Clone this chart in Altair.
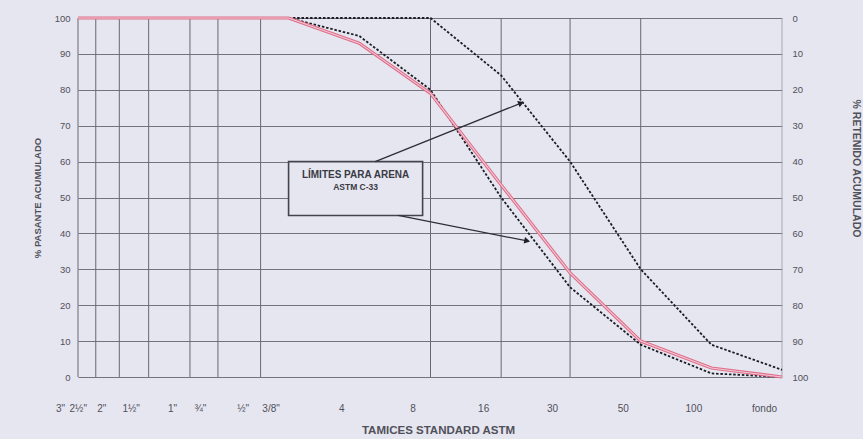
import altair as alt
import pandas as pd

# ---- data -------------------------------------------------------------
sieve_labels = ['3"', '2½"', '2"', '1½"', '1"', '¾"', '½"', '3/8"', '4', '8', '16', '30', '50', '100', 'fondo']
sieve_mm = [75, 63, 50, 37.5, 25, 19, 12.5, 9.5, 4.75, 2.36, 1.18, 0.6, 0.3, 0.15, 0.075]
grid_mm = [63, 50, 37.5, 25, 19, 12.5, 2.36, 1.18, 0.6, 0.3]

muestra_pasante = [100, 100, 100, 100, 100, 100, 100, 100, 93, 79, 53.5, 29, 10, 2.5, 0]
limite_mm = [9.5, 4.75, 2.36, 1.18, 0.6, 0.3, 0.15, 0.075]
limite_sup = [100, 100, 100, 84, 60, 30, 9, 2]
limite_inf = [100, 95, 80, 50, 25, 9, 1, 0]

box_mm = [9.5, 2.55]
box_pasante = [45, 60]
box_text = ["LÍMITES PARA ARENA", "ASTM C-33"]
box_text_pasante = [56.3, 53.0]

arrow_mm0 = [4.06, 3.24]
arrow_p0 = [60, 45]
arrow_mm1 = [0.97, 0.914]
arrow_p1 = [76.3, 37.9]
arrow_angle = [338, 12]

y_ticks = list(range(0, 101, 10))

# ---- frames -----------------------------------------------------------
df_muestra = pd.DataFrame({"mm": sieve_mm, "pasante": muestra_pasante})
df_lim = pd.concat([
    pd.DataFrame({"mm": limite_mm, "pasante": limite_sup, "serie": "sup"}),
    pd.DataFrame({"mm": limite_mm, "pasante": limite_inf, "serie": "inf"}),
])
df_grid = pd.DataFrame({"mm": grid_mm})
df_border = pd.DataFrame({"mm": [sieve_mm[0]]})
df_border_r = pd.DataFrame({"mm": [sieve_mm[-1]]})
df_box = pd.DataFrame({"mm": [box_mm[0]], "mm2": [box_mm[1]],
                       "pasante": [box_pasante[0]], "pasante2": [box_pasante[1]]})
box_center = (box_mm[0] * box_mm[1]) ** 0.5
df_boxtext = pd.DataFrame({"mm": [box_center, box_center], "pasante": box_text_pasante,
                           "t": box_text, "sz": [10, 8.5]})
df_arrow = pd.DataFrame({"mm": arrow_mm0, "pasante": arrow_p0, "mm2": arrow_mm1,
                         "pasante2": arrow_p1, "ang": arrow_angle})
df_head = pd.DataFrame({"mm": arrow_mm1, "pasante": arrow_p1, "ang": arrow_angle})

# ---- scales / axes ----------------------------------------------------
FONT = "Liberation Sans"
TXT = "#50505a"
label_expr = " : ".join(
    "datum.value == %s ? '%s'" % (repr(v), l) for v, l in zip(sieve_mm, sieve_labels)
) + " : ''"

xscale = alt.Scale(type="log", domain=[0.075, 75], reverse=True, nice=False)
xaxis = alt.Axis(values=sieve_mm, labelExpr=label_expr, grid=False, ticks=False, domain=False,
                 labelOffset=-18, labelPadding=26, labelOverlap=False, labelFlush=False,
                 labelBound=False, labelFont=FONT, labelFontSize=10, labelColor=TXT,
                 title="TAMICES STANDARD ASTM", titleFont=FONT, titleFontSize=11.5,
                 titleFontWeight="bold", titleColor=TXT, titlePadding=11, titleX=360)

yscale = alt.Scale(domain=[0, 100], nice=False)
yaxis = alt.Axis(values=y_ticks, grid=True, gridColor="#74747f", gridWidth=1, ticks=False,
                 domain=False, labelPadding=8, labelFont=FONT, labelFontSize=9.5,
                 labelColor=TXT, title="% PASANTE ACUMULADO", titleFont=FONT,
                 titleFontSize=9.5, titleFontWeight="bold", titleColor=TXT,
                 titlePadding=12)


def X(field="mm"):
    return alt.X(f"{field}:Q", scale=xscale, axis=xaxis)


def Y(field="pasante"):
    return alt.Y(f"{field}:Q", scale=yscale, axis=yaxis)


grid = alt.Chart(df_grid).mark_rule(color="#686874", strokeWidth=1).encode(x=X())
border = alt.Chart(df_border).mark_rule(color="#686874", strokeWidth=1).encode(x=X())
border_r = alt.Chart(df_border_r).mark_rule(color="#a8a8b4", strokeWidth=1).encode(x=X())

limits = alt.Chart(df_lim).mark_line(color="#1c1c24", strokeWidth=1.8, strokeDash=[2.5, 1.8]).encode(
    x=X(), y=Y(), detail="serie:N")

red_outer = alt.Chart(df_muestra).mark_line(color="#e06c88", strokeWidth=3.2).encode(x=X(), y=Y())
red_inner = alt.Chart(df_muestra).mark_line(color="#f0cbd6", strokeWidth=1.1).encode(x=X(), y=Y())

box = alt.Chart(df_box).mark_rect(fill="#e6e6f0", stroke="#44444e", strokeWidth=1.6).encode(
    x=X(), x2="mm2:Q", y=Y(), y2="pasante2:Q")
box_txt = alt.Chart(df_boxtext).mark_text(font=FONT, fontWeight="bold", color="#3a3a44").encode(
    x=X(), y=Y(), text="t:N", size=alt.Size("sz:Q", scale=None, legend=None))

arrows = alt.Chart(df_arrow).mark_rule(color="#2e2e36", strokeWidth=1.3).encode(
    x=X(), x2="mm2:Q", y=Y(), y2="pasante2:Q")
heads = alt.Chart(df_head).mark_point(shape="triangle-right", filled=True, size=45,
                                      color="#1e1e24", opacity=1).encode(
    x=X(), y=Y(), angle=alt.Angle("ang:Q", scale=None))

left = alt.layer(grid, border, border_r, limits, red_outer, red_inner, box, box_txt, arrows, heads)

right = alt.Chart(df_muestra).transform_calculate(
    retenido="100 - datum.pasante"
).mark_line(opacity=0).encode(
    x=X(),
    y=alt.Y("retenido:Q", scale=alt.Scale(domain=[0, 100], reverse=True, nice=False),
            axis=alt.Axis(values=y_ticks, orient="right", grid=False, ticks=False, domain=False,
                          labelPadding=10, labelFont=FONT, labelFontSize=9.5,
                          labelColor=TXT, title="% RETENIDO ACUMULADO", titleFont=FONT,
                          titleFontSize=10.5, titleFontWeight="bold", titleColor=TXT,
                          titleAngle=90, titlePadding=43, titleY=150)),
)

chart = alt.layer(left, right).resolve_scale(y="independent").properties(
    width=704, height=359,
    autosize=alt.AutoSizeParams(type="none"),
    padding={"left": 78, "top": 18, "right": 81, "bottom": 62},
    background="#e6e6f0",
).configure_view(stroke=None, fill="#e6e6f0")

chart.save("out.html", embed_options={"renderer": "svg", "actions": False})
